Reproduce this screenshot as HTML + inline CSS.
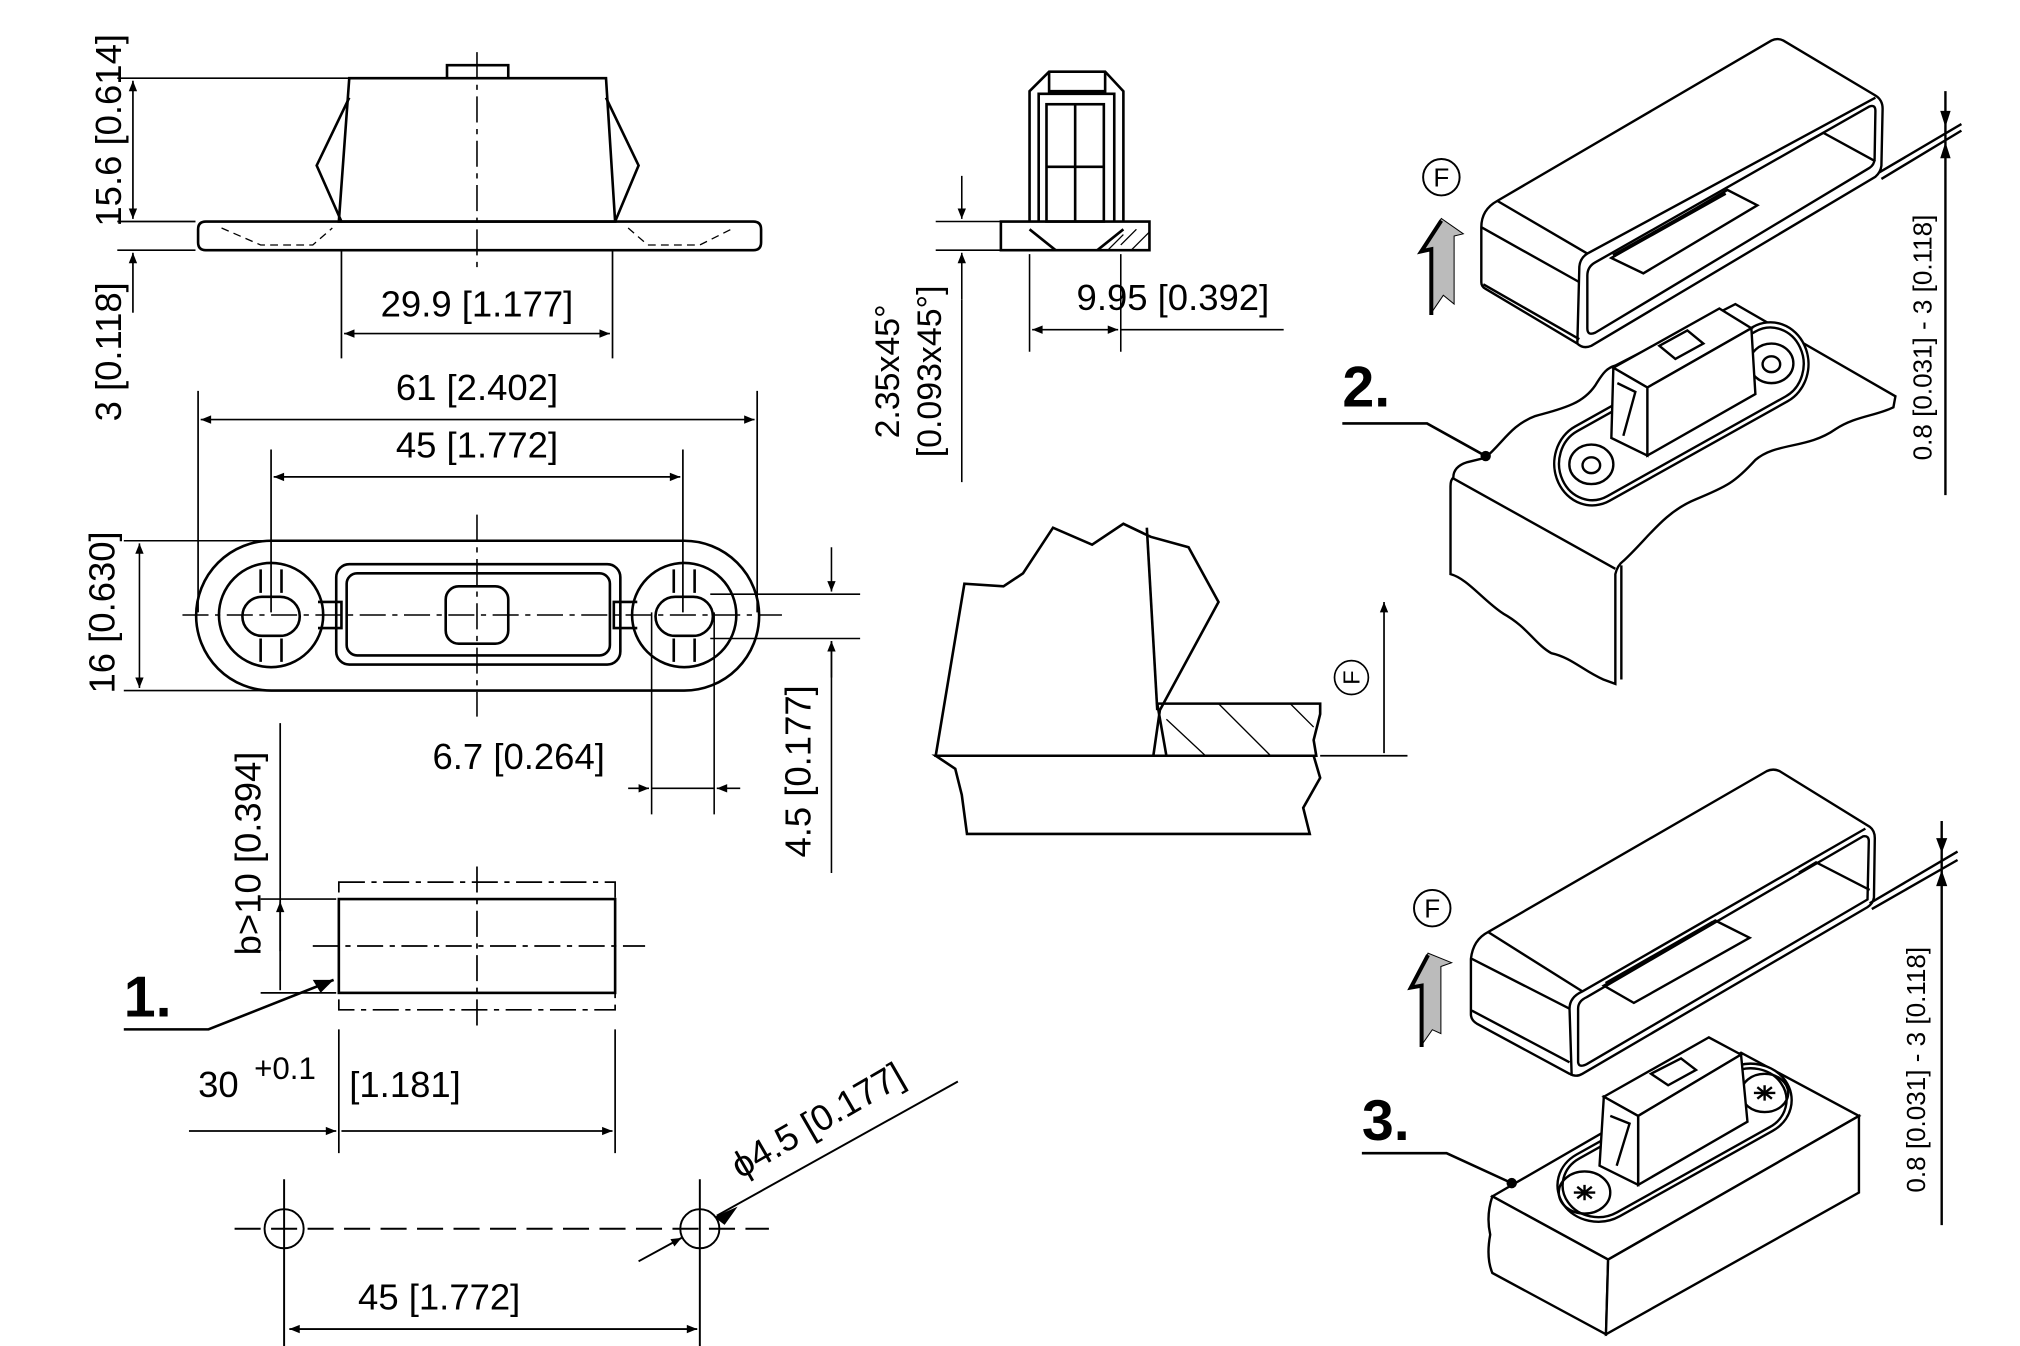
<!DOCTYPE html>
<html><head><meta charset="utf-8"><style>
html,body{margin:0;padding:0;background:#fff}
svg{display:block}
text{font-family:"Liberation Sans",sans-serif;fill:#000}
.n{vector-effect:non-scaling-stroke}
</style></head><body>
<svg width="2020" height="1346" viewBox="0 0 1550 1033" preserveAspectRatio="none" xmlns="http://www.w3.org/2000/svg">
<defs>
<marker id="a" viewBox="0 0 10 10" refX="10" refY="5" markerWidth="10" markerHeight="8" orient="auto-start-reverse" markerUnits="userSpaceOnUse"><path d="M0,1L10,5L0,9z" fill="#000"/></marker>
</defs>
<g fill="none" stroke="#000" stroke-width="2">
<path d="M158,170H578Q584,170 584,176V186Q584,192 578,192H158Q152,192 152,186V176Q152,170 158,170Z"/>
<path d="M268,60H465L472,170H260Z"/>
<path d="M268,75L243,127L262,170M465,75L490,127L472,170"/>
<path d="M343,60V50H390V60"/>
<path d="M170,175L200,188H240L255,175M482,175L497,188H537L563,175" stroke-width="1" stroke-dasharray="6,4"/>
<path d="M366,40V210" stroke-width="1.2" stroke-dasharray="20,5,4,5"/>
</g>
<g stroke="#000" stroke-width="1.3" fill="none">
<path d="M90,60H268M90,170H150M90,192H150"/>
<path d="M102,62V168" marker-start="url(#a)" marker-end="url(#a)"/>
<path d="M102,240V194" marker-end="url(#a)"/>
<path d="M262,192V275M470,192V275"/>
<path d="M264,256H468" marker-start="url(#a)" marker-end="url(#a)"/>
<path d="M152,300V470M581,300V470"/>
<path d="M154,322H579" marker-start="url(#a)" marker-end="url(#a)"/>
<path d="M208,345V470M524,345V470"/>
<path d="M210,366H522" marker-start="url(#a)" marker-end="url(#a)"/>
</g>
<text x="93" y="100" font-size="28" transform="rotate(-90 93 100)" text-anchor="middle">15.6 [0.614]</text>
<text x="93" y="270" font-size="28" transform="rotate(-90 93 270)" text-anchor="middle">3 [0.118]</text>
<text x="366" y="243" font-size="28" text-anchor="middle">29.9 [1.177]</text>
<text x="366" y="307" font-size="28" text-anchor="middle">61 [2.402]</text>
<text x="366" y="351" font-size="28" text-anchor="middle">45 [1.772]</text>

<g fill="none" stroke="#000" stroke-width="2">
<path d="M208,415H525A57,57 0 0 1 525,530H208A57,57 0 0 1 208,415Z"/>
<rect x="258" y="433" width="218" height="77" rx="10"/>
<rect x="266" y="440" width="202" height="63" rx="8"/>
<circle cx="208" cy="472" r="40"/><circle cx="525" cy="472" r="40"/>
<rect x="186" y="458" width="44" height="30" rx="15"/><rect x="503" y="458" width="44" height="30" rx="15"/>
<rect x="342" y="450" width="48" height="44" rx="10"/>
<path d="M200,437V455M216,437V455M200,490V508M216,490V508M517,437V455M533,437V455M517,490V508M533,490V508"/>
<path d="M244,462H262V482H244M489,462H471V482H489"/>
</g>
<g stroke="#000" stroke-width="1.2" fill="none">
<path d="M140,472H600" stroke-dasharray="20,5,4,5"/>
<path d="M366,395V550" stroke-dasharray="20,5,4,5"/>
<path d="M95,415H208M95,530H208"/>
<path d="M107,417V528" marker-start="url(#a)" marker-end="url(#a)"/>
<path d="M500,470V625M548,470V625"/>
<path d="M482,605H498" marker-end="url(#a)"/><path d="M568,605H550" marker-end="url(#a)"/>
<path d="M500,605H548"/>
<path d="M545,456H660M545,490H660"/>
<path d="M638,420V454" marker-end="url(#a)"/><path d="M638,520V492" marker-end="url(#a)"/><path d="M638,492V670"/>
</g>
<text x="88" y="470" font-size="28" transform="rotate(-90 88 470)" text-anchor="middle">16 [0.630]</text>
<text x="398" y="590" font-size="28" text-anchor="middle">6.7 [0.264]</text>
<text x="622" y="592" font-size="28" transform="rotate(-90 622 592)" text-anchor="middle">4.5 [0.177]</text>

<g fill="none" stroke="#000" stroke-width="1.3">
<rect x="260" y="690" width="212" height="72" stroke-width="2"/>
<path d="M260,677H472V775H260Z" stroke-dasharray="20,5,4,5"/>
<path d="M366,665V790M240,726H495" stroke-dasharray="20,5,4,5"/>
<path d="M215,555V760M200,690H258M200,762H258"/>
<path d="M215,692V730" marker-start="url(#a)"/>
<path d="M95,790H160L256,752" stroke-width="2"/>
<path d="M260,790V885M472,790V885"/>
<path d="M145,868H258" marker-end="url(#a)"/><path d="M262,868H470" marker-end="url(#a)"/>
</g>
<path d="M256,752L240,752L246,762Z" fill="#000"/>
<text x="200" y="655" font-size="28" transform="rotate(-90 200 655)" text-anchor="middle">b&gt;10 [0.394]</text>
<text x="95" y="780" font-size="44" font-weight="bold">1.</text>
<text x="152" y="842" font-size="28">30</text>
<text x="195" y="828" font-size="24">+0.1</text>
<text x="268" y="842" font-size="28">[1.181]</text>
<g fill="none" stroke="#000" stroke-width="1.5">
<circle cx="218" cy="943" r="15"/><circle cx="537" cy="943" r="15"/>
<path d="M180,943H590" stroke-dasharray="20,8"/>
<path d="M218,905V1040M537,905V1040M218,925V961M537,925V961"/>
<path d="M222,1020H535" marker-start="url(#a)" marker-end="url(#a)"/>
<path d="M735,830L550,933" /><path d="M490,968L523,950" marker-end="url(#a)"/>
</g>
<path d="M548,934L566,926L556,940Z" fill="#000"/>
<text x="337" y="1005" font-size="28" text-anchor="middle">45 [1.772]</text>
<text x="568" y="905" font-size="28" transform="rotate(-30 568 905)">ϕ4.5 [0.177]</text>

<g fill="none" stroke="#000" stroke-width="2">
<path d="M790,170V70L805,55H848L862,70V170"/>
<path d="M797,170V72H855V170"/>
<rect x="803" y="80" width="44" height="90"/>
<path d="M825,80V170M803,128H847"/>
<path d="M805,55V70H848V55"/>
<path d="M768,170H882V192H768Z"/>
<path d="M790,176L810,192M862,176L842,192"/>
</g>
<g stroke="#000" stroke-width="1" fill="none">
<path d="M860,188L872,176M868,192L882,178M850,192L862,180"/>
</g>
<g stroke="#000" stroke-width="1.2" fill="none">
<path d="M718,170H768M718,192H768M738,135V168" marker-end="url(#a)"/>
<path d="M738,230V194" marker-end="url(#a)"/><path d="M738,230V370"/>
<path d="M790,195V270M860,195V270"/>
<path d="M792,253H858" marker-start="url(#a)" marker-end="url(#a)"/><path d="M860,253H985"/>
</g>
<text x="900" y="238" font-size="28" text-anchor="middle">9.95 [0.392]</text>
<text x="690" y="285" font-size="26" transform="rotate(-90 690 285)" text-anchor="middle">2.35x45°</text>
<text x="722" y="285" font-size="26" transform="rotate(-90 722 285)" text-anchor="middle">[0.093x45°]</text>

<g fill="none" stroke="#000" stroke-width="2">
<path d="M718,580L740,448L770,450L785,440L808,405L838,418L862,402L883,412L912,420L935,462L890,545L885,580Z"/>
<path d="M880,405L888,545"/>
<path d="M718,580H1008L1013,597L1000,620L1005,640H742L738,610L733,590Z"/>
<path d="M888,540H1013V548L1008,568L1010,580H895Z"/>
</g>
<g stroke="#000" stroke-width="1" fill="none">
<path d="M895,552L925,580M935,540L975,580M990,540L1008,558"/>
</g>
<g stroke="#000" stroke-width="1.3" fill="none">
<path d="M1013,580H1080M1062,578V462" marker-end="url(#a)"/>
<circle cx="1037" cy="520" r="13"/>
</g>
<text x="1037" y="520" font-size="18" transform="rotate(-90 1037 520)" text-anchor="middle" dominant-baseline="central">F</text>

<!-- ISO 2 -->
<g transform="translate(1086,16) scale(0.307,0.337)" fill="none" stroke="#000" stroke-width="2.4">
<path class="n" d="M165,470Q165,430 205,410L890,45Q905,38 920,45L1150,170Q1168,180 1168,200L1165,330Q1163,345 1150,355L440,740Q420,748 405,735L175,610Q165,605 165,595Z" fill="#fff"/>
<path class="n" d="M405,735L410,560Q412,540 430,530L1150,175"/>
<path class="n" d="M205,410Q205,410 430,530"/>
<path class="n" d="M430,580Q430,560 450,550L1135,195Q1150,190 1150,205L1148,315Q1147,328 1135,335L450,710Q430,718 430,700Z"/>
<path class="n" d="M165,470L410,595M170,600L410,725"/>
<path class="n" d="M490,540L780,385L855,420L570,575Z"/>
<path class="n" d="M495,535L775,392" stroke-width="4"/>
<path class="n" d="M980,275L1020,255L1150,320"/>
<!-- base -->
<path class="n" d="M95,1040Q95,1015 130,1005L175,995C220,960 240,920 300,900C380,880 420,870 450,830C470,800 480,790 500,785L800,645L1200,855L1195,880C1150,900 1100,900 1050,930C980,975 900,960 850,1000C800,1050 780,1060 700,1090C620,1120 580,1180 520,1230Q505,1240 500,1260V1510L470,1500C420,1480 390,1450 340,1440C300,1420 280,1380 220,1350C170,1320 130,1270 88,1260V1060Q88,1045 95,1040Z" fill="#fff"/>
<path class="n" d="M95,1042L500,1248M515,1240V1500"/>
<rect class="n" x="320" y="800" width="690" height="190" rx="95" transform="rotate(-27 665 895)" fill="#fff"/>
<rect class="n" x="332" y="812" width="666" height="166" rx="83" transform="rotate(-27 665 895)"/>
<ellipse class="n" cx="440" cy="1010" rx="55" ry="45"/><ellipse class="n" cx="440" cy="1012" rx="22" ry="18"/>
<ellipse class="n" cx="890" cy="780" rx="55" ry="45"/><ellipse class="n" cx="890" cy="782" rx="22" ry="18"/>
<path class="n" d="M495,790L760,655L840,700L580,835Z" fill="#fff"/>
<path class="n" d="M580,835L840,700L850,850L580,990Z" fill="#fff"/>
<path class="n" d="M495,790L580,835L580,990L490,950Z" fill="#fff"/>
<path class="n" d="M505,825L550,845L520,945"/>
<path class="n" d="M610,740L680,705L720,735L650,770Z" fill="#fff"/>
<path class="n" d="M1160,345L1365,235M1165,360L1365,250M1325,160V1080"/>
<path d="M1312,205L1338,205L1325,242Z" fill="#000" stroke="none"/>
<path d="M1312,313L1338,313L1325,276Z" fill="#000" stroke="none"/>
<path class="n" d="M40,665L40,520L15,525L65,450L120,485L97,490L97,645L70,625Z" fill="#bbb" stroke-width="1"/>
<path class="n" d="M40,670V520L15,525L65,455" stroke-width="4"/>
</g>
<circle cx="1106" cy="136" r="14" fill="none" stroke="#000" stroke-width="1.5"/>
<text x="1106" y="143" font-size="20" text-anchor="middle">F</text>
<path d="M1030,325H1095L1140,350" fill="none" stroke="#000" stroke-width="2"/>
<circle cx="1140" cy="350" r="4"/>
<text x="1030" y="312" font-size="44" font-weight="bold">2.</text>
<text x="1482" y="259" font-size="20" transform="rotate(-90 1482 259)" text-anchor="middle">0.8 [0.031] - 3 [0.118]</text>

<!-- ISO 3 -->
<g transform="translate(1053,583) scale(0.329,0.294)" fill="none" stroke="#000" stroke-width="2.4">
<path class="n" d="M230,520Q235,470 270,450L920,30Q935,22 950,30L1160,175Q1172,185 1172,205L1170,360Q1168,375 1155,385L490,820Q475,830 460,820L245,690Q230,680 230,665Z" fill="#fff"/>
<path class="n" d="M465,825L460,650Q460,620 490,605L1150,180"/>
<path class="n" d="M270,450L490,605"/>
<path class="n" d="M480,650Q480,630 500,620L1145,200Q1158,198 1158,212L1155,365L500,795Q482,805 480,790Z"/>
<path class="n" d="M232,520L460,650M232,655L460,790"/>
<path class="n" d="M540,590L800,420L880,465L610,635Z"/>
<path class="n" d="M545,585L795,425" stroke-width="4"/>
<path class="n" d="M995,295L1035,268L1160,340"/>
<path class="n" d="M280,1140L860,765L1135,930L550,1305Z" fill="#fff"/>
<path class="n" d="M280,1140L550,1305L545,1500L280,1340Q265,1300 275,1240Q265,1190 280,1140Z" fill="#fff"/>
<path class="n" d="M550,1305L1135,930V1130L545,1500Z" fill="#fff"/>
<rect class="n" x="400" y="905" width="610" height="190" rx="95" transform="rotate(-32 705 1000)" fill="#fff"/>
<rect class="n" x="412" y="917" width="586" height="166" rx="83" transform="rotate(-32 705 1000)"/>
<ellipse class="n" cx="495" cy="1130" rx="60" ry="55"/><ellipse class="n" cx="915" cy="870" rx="55" ry="50"/>
<path class="n" d="M470,1130H520M495,1110V1150M478,1115L512,1145M512,1115L478,1145M890,870H940M915,850V890M898,855L932,885M932,855L898,885"/>
<path class="n" d="M540,880L785,725L860,770L620,930Z" fill="#fff"/>
<path class="n" d="M620,930L860,770L875,945L620,1110Z" fill="#fff"/>
<path class="n" d="M540,880L620,930L620,1110L530,1060Z" fill="#fff"/>
<path class="n" d="M555,930L600,950L570,1060"/>
<path class="n" d="M650,820L720,780L755,810L690,850Z" fill="#fff"/>
<path class="n" d="M1160,375L1365,240M1165,390L1365,262M1328,160V1215"/>
<path d="M1315,205L1341,205L1328,244Z" fill="#000" stroke="none"/>
<path d="M1315,330L1341,330L1328,288Z" fill="#000" stroke="none"/>
<path class="n" d="M115,745L115,590L90,595L130,505L185,530L160,540L160,715L140,705Z" fill="#bbb" stroke-width="1"/>
<path class="n" d="M115,750V590L90,595L130,510" stroke-width="4"/>
</g>
<circle cx="1099" cy="697" r="14" fill="none" stroke="#000" stroke-width="1.5"/>
<text x="1099" y="704" font-size="20" text-anchor="middle">F</text>
<path d="M1045,885H1110L1160,908" fill="none" stroke="#000" stroke-width="2"/>
<circle cx="1160" cy="908" r="4"/>
<text x="1045" y="875" font-size="44" font-weight="bold">3.</text>
<text x="1477" y="821" font-size="20" transform="rotate(-90 1477 821)" text-anchor="middle">0.8 [0.031] - 3 [0.118]</text>
</svg>
</body></html>
